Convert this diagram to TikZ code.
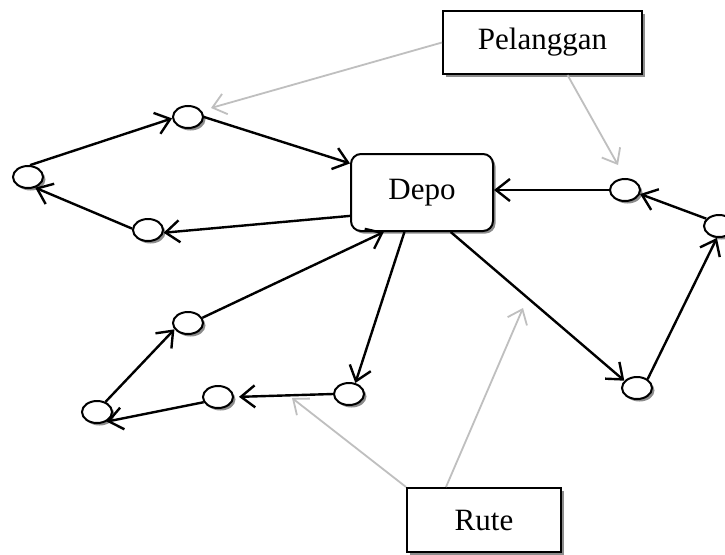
\documentclass[tikz,border=0pt]{standalone}
\usepackage{fontspec}
\setmainfont{Liberation Serif}
\usetikzlibrary{arrows.meta,shapes.geometric,shadows,calc}
\begin{document}
\begin{tikzpicture}[x=1pt,y=-1pt,
  shd/.style={drop shadow={shadow xshift=2.5pt,shadow yshift=-2.5pt,fill=black!45,opacity=1}},
  dot/.style={ellipse,draw=black,line width=2pt,fill=white,minimum width=30pt,minimum height=22pt,inner sep=0pt,shd},
  boxnode/.style={rectangle,draw=black,line width=2pt,fill=white,inner sep=0pt,font=\fontsize{31}{37}\selectfont,shd},
  blk/.style={draw=black,line width=2.4pt,-{Straight Barb[length=14pt,width=22pt]}},
  gry/.style={draw=black!25,line width=1.8pt,-{Straight Barb[length=13pt,width=21pt]}}
]
\useasboundingbox (0,0) rectangle (725,554);
\fill[white] (0,0) rectangle (725,554);

% boxes
\node[boxnode,minimum width=199pt,minimum height=63pt] (Pel) at (542.5,42.5) {Pelanggan};
\node[boxnode,rounded corners=10pt,minimum width=142pt,minimum height=77pt] (Depo) at (422,192.5) {Depo};
\node[boxnode,minimum width=154pt,minimum height=64pt] (Rute) at (484,520) {Rute};

% customer nodes
\node[dot] (A) at (188,117) {};
\node[dot] (B) at (28,177) {};
\node[dot] (C) at (148,230) {};
\node[dot] (D) at (625,190) {};
\node[dot] (E) at (719,226) {};
\node[dot] (F) at (188,323) {};
\node[dot] (G) at (97,412) {};
\node[dot] (H) at (218,397) {};
\node[dot] (I) at (349,394) {};
\node[dot] (J) at (637,388) {};

% free ends of gray pointers
\coordinate (pA) at (211,108);
\coordinate (pD) at (618,165);
\coordinate (rH) at (292,398);
\coordinate (rU) at (523,308);

% route 1
\draw[blk] (B.80) -- (A.185);
\draw[blk] (A.east) -- (Depo.158);
\draw[blk] (Depo.198) -- (C.-10);
\draw[blk] (C.175) -- (B.-56);

% route 2
\draw[blk] (D.west) -- (D.west -| Depo.east);
\draw[blk] (E.150) -- (D.-15);
\draw[blk] (J.40) -- (E.-100);
\draw[blk] (Depo.-54) -- (J.150);

% route 3
\draw[blk] (Depo.-114) -- (I.60);
\draw[blk,shorten >=5pt] (I.west) -- (H.east);
\draw[blk] (H.200) -- (G.-45);
\draw[blk] (G.50) -- (F.205);
\draw[blk] (F.20) -- (Depo.-134);

% gray pointers
\draw[gry] (Pel.west) -- (pA);
\draw[gry] ($(Pel.south)+(25,0)$) -- (pD);
\draw[gry] (Rute.north west) -- (rH);
\draw[gry] ($(Rute.north west)+(40,0)$) -- (rU);
\end{tikzpicture}
\end{document}
